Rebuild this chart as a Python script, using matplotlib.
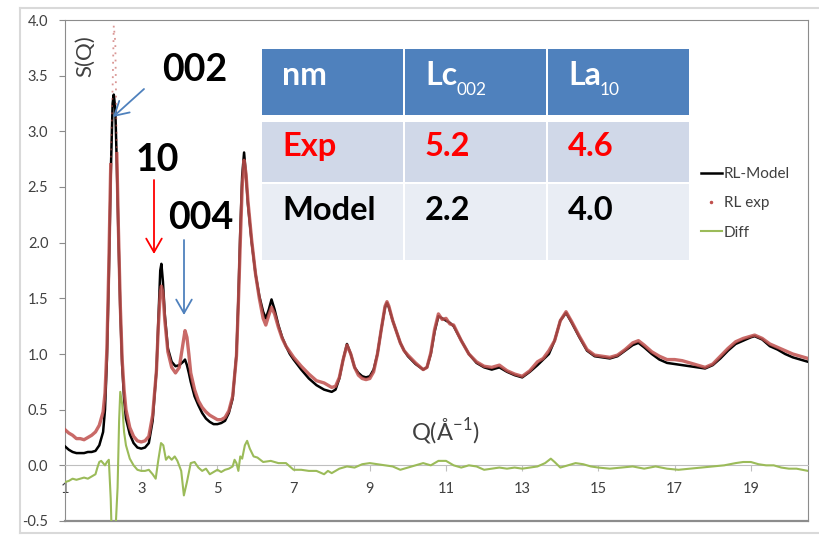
import matplotlib
matplotlib.use("Agg")
import matplotlib.pyplot as plt
import numpy as np
from matplotlib.patches import Rectangle, FancyArrowPatch
from matplotlib.lines import Line2D
from matplotlib.transforms import Affine2D

plt.rcParams['font.family'] = ['Lato', 'DejaVu Sans']
plt.rcParams['mathtext.fontset'] = 'custom'
plt.rcParams['mathtext.rm'] = 'Lato'

# Q grid shared by model and experiment
q = [1.0, 1.1, 1.2, 1.3, 1.4, 1.5, 1.6, 1.7, 1.8, 1.9,
     2.0, 2.05, 2.1, 2.15, 2.2, 2.25, 2.28, 2.32, 2.36, 2.4,
     2.45, 2.5, 2.55, 2.6, 2.7, 2.8, 2.9, 3.0, 3.1, 3.2,
     3.3, 3.4, 3.45, 3.5, 3.53, 3.57, 3.62, 3.7, 3.8, 3.9,
     4.0, 4.1, 4.15, 4.2, 4.25, 4.3, 4.4, 4.5, 4.6, 4.7,
     4.8, 4.9, 5.0, 5.1, 5.2, 5.3, 5.4, 5.5, 5.55, 5.6,
     5.65, 5.7, 5.75, 5.8, 5.9, 6.0, 6.1, 6.2, 6.27, 6.35,
     6.42, 6.5, 6.6, 6.7, 6.8, 6.9, 7.0, 7.2, 7.4, 7.6,
     7.8, 8.0, 8.1, 8.2, 8.3, 8.4, 8.5, 8.6, 8.7, 8.8,
     8.9, 9.0, 9.1, 9.2, 9.3, 9.4, 9.45, 9.5, 9.6, 9.7,
     9.8, 9.9, 10.0, 10.2, 10.4, 10.5, 10.6, 10.7, 10.8, 10.9,
     11.0, 11.1, 11.2, 11.4, 11.6, 11.8, 12.0, 12.2, 12.4, 12.6,
     12.8, 13.0, 13.2, 13.4, 13.55, 13.7, 13.85, 14.0, 14.15, 14.3,
     14.5, 14.7, 14.9, 15.1, 15.3, 15.5, 15.7, 15.9, 16.05, 16.2,
     16.4, 16.6, 16.8, 17.0, 17.2, 17.4, 17.6, 17.8, 18.0, 18.2,
     18.4, 18.6, 18.8, 19.0, 19.1, 19.3, 19.5, 19.7, 19.9, 20.1,
     20.3, 20.5]

rl_model = [0.17, 0.14, 0.12, 0.11, 0.11, 0.11, 0.12, 0.12, 0.13, 0.18,
            0.30, 0.50, 0.95, 1.70, 2.60, 3.25, 3.33, 3.20, 2.70, 2.10,
            1.40, 0.90, 0.60, 0.42, 0.28, 0.20, 0.16, 0.15, 0.16, 0.20,
            0.40, 0.85, 1.30, 1.75, 1.81, 1.65, 1.35, 1.05, 0.93, 0.89,
            0.90, 0.93, 0.95, 0.90, 0.83, 0.75, 0.62, 0.54, 0.47, 0.42,
            0.39, 0.37, 0.37, 0.38, 0.40, 0.47, 0.60, 1.00, 1.50, 2.10,
            2.60, 2.81, 2.60, 2.35, 2.00, 1.72, 1.52, 1.38, 1.32, 1.40,
            1.49, 1.40, 1.26, 1.15, 1.07, 1.00, 0.95, 0.86, 0.78, 0.72,
            0.68, 0.66, 0.68, 0.78, 0.95, 1.09, 1.00, 0.88, 0.83, 0.80,
            0.79, 0.80, 0.86, 1.00, 1.22, 1.42, 1.46, 1.42, 1.30, 1.20,
            1.10, 1.03, 0.98, 0.91, 0.86, 0.88, 1.00, 1.20, 1.34, 1.32,
            1.30, 1.28, 1.25, 1.12, 1.00, 0.92, 0.88, 0.86, 0.88, 0.84,
            0.81, 0.79, 0.84, 0.90, 0.95, 1.00, 1.12, 1.30, 1.37, 1.28,
            1.15, 1.03, 0.98, 0.97, 0.96, 0.98, 1.03, 1.08, 1.10, 1.06,
            1.00, 0.95, 0.92, 0.91, 0.90, 0.89, 0.88, 0.87, 0.90, 0.96,
            1.03, 1.09, 1.12, 1.15, 1.16, 1.13, 1.07, 1.04, 1.00, 0.97,
            0.95, 0.93]

rl_exp = [0.32, 0.29, 0.27, 0.24, 0.24, 0.23, 0.25, 0.27, 0.30, 0.36,
          0.48, 0.65, 1.05, 1.80, 2.70, 3.40, 3.95, 3.80, 2.80, 2.15,
          1.45, 0.95, 0.68, 0.50, 0.34, 0.26, 0.22, 0.21, 0.22, 0.26,
          0.45, 0.85, 1.25, 1.55, 1.61, 1.55, 1.30, 1.02, 0.88, 0.83,
          0.88, 1.10, 1.21, 1.15, 1.00, 0.83, 0.68, 0.58, 0.52, 0.48,
          0.45, 0.43, 0.41, 0.41, 0.43, 0.49, 0.62, 0.98, 1.45, 2.00,
          2.50, 2.74, 2.62, 2.38, 2.02, 1.72, 1.50, 1.32, 1.26, 1.35,
          1.42, 1.36, 1.24, 1.14, 1.07, 1.02, 0.97, 0.89, 0.82, 0.76,
          0.74, 0.70, 0.71, 0.79, 0.95, 1.08, 1.00, 0.88, 0.81, 0.78,
          0.77, 0.78, 0.84, 1.00, 1.22, 1.43, 1.47, 1.43, 1.30, 1.20,
          1.10, 1.03, 0.99, 0.92, 0.86, 0.88, 1.01, 1.22, 1.36, 1.31,
          1.32, 1.27, 1.26, 1.12, 1.00, 0.93, 0.89, 0.88, 0.90, 0.85,
          0.82, 0.80, 0.85, 0.93, 0.96, 1.03, 1.12, 1.30, 1.38, 1.29,
          1.16, 1.04, 0.99, 0.98, 0.97, 0.99, 1.04, 1.10, 1.12, 1.08,
          1.02, 0.98, 0.95, 0.95, 0.94, 0.92, 0.90, 0.88, 0.91, 0.98,
          1.05, 1.11, 1.14, 1.16, 1.17, 1.14, 1.09, 1.06, 1.03, 1.00,
          0.98, 0.96]

q_diff = [1.0, 1.1, 1.2, 1.3, 1.4, 1.5, 1.6, 1.7, 1.8, 1.85,
          1.9, 1.95, 2.0, 2.05, 2.1, 2.15, 2.2, 2.22, 2.28, 2.33,
          2.38, 2.42, 2.45, 2.5, 2.55, 2.6, 2.7, 2.8, 2.9, 3.0,
          3.1, 3.2, 3.3, 3.38, 3.45, 3.52, 3.58, 3.65, 3.72, 3.8,
          3.88, 3.95, 4.05, 4.12, 4.2, 4.3, 4.4, 4.5, 4.6, 4.7,
          4.8, 4.9, 5.0, 5.1, 5.2, 5.3, 5.4, 5.45, 5.5, 5.55,
          5.6, 5.65, 5.72, 5.78, 5.85, 5.95, 6.05, 6.2, 6.4, 6.6,
          6.8, 7.0, 7.2, 7.4, 7.6, 7.8, 7.9, 8.0, 8.2, 8.4,
          8.6, 8.8, 9.0, 9.2, 9.4, 9.6, 9.8, 10.0, 10.2, 10.4,
          10.6, 10.8, 11.0, 11.2, 11.4, 11.6, 11.8, 12.0, 12.2, 12.4,
          12.6, 12.8, 13.0, 13.2, 13.4, 13.6, 13.75, 13.85, 14.0, 14.2,
          14.4, 14.6, 14.8, 15.0, 15.3, 15.6, 15.9, 16.2, 16.5, 16.8,
          17.1, 17.4, 17.7, 18.0, 18.3, 18.6, 18.8, 19.0, 19.2, 19.4,
          19.6, 19.8, 20.0, 20.2, 20.5]

diff = [-0.15, -0.14, -0.12, -0.13, -0.12, -0.11, -0.12, -0.10, -0.08, -0.02,
        0.03, 0.04, 0.02, 0.00, 0.03, 0.05, -0.30, -0.55, -0.60, -0.55,
        -0.20, 0.40, 0.66, 0.55, 0.30, 0.18, 0.06, 0.00, -0.04, -0.05,
        -0.05, -0.04, -0.08, -0.12, 0.05, 0.20, 0.18, 0.05, 0.08, 0.05,
        0.08, 0.04, -0.05, -0.27, -0.15, 0.02, 0.03, -0.02, -0.05, -0.03,
        -0.08, -0.06, -0.04, -0.06, -0.04, -0.03, -0.01, 0.05, 0.02, -0.05,
        0.08, 0.06, 0.18, 0.22, 0.15, 0.08, 0.07, 0.03, 0.04, 0.02,
        0.02, -0.04, -0.04, -0.05, -0.05, -0.08, -0.05, -0.07, -0.03, -0.01,
        -0.02, 0.01, 0.02, 0.01, 0.00, -0.01, -0.04, -0.02, 0.00, 0.02,
        0.00, 0.04, 0.04, 0.00, -0.02, 0.00, -0.01, -0.04, -0.03, -0.02,
        -0.03, -0.02, -0.03, -0.02, -0.01, 0.02, 0.06, 0.03, -0.02, 0.00,
        0.02, 0.01, -0.01, -0.02, -0.03, -0.02, -0.01, -0.03, -0.01, -0.03,
        -0.04, -0.03, -0.02, -0.01, 0.00, 0.02, 0.03, 0.03, 0.01, 0.00,
        0.00, -0.02, -0.03, -0.03, -0.05]

x_ticks = [1, 3, 5, 7, 9, 11, 13, 15, 17, 19]
y_ticks = [-0.5, 0.0, 0.5, 1.0, 1.5, 2.0, 2.5, 3.0, 3.5, 4.0]

table_head = ['nm', 'Lc', 'La']
table_sub = ['', '002', '10']
table_rows = [['Exp', '5.2', '4.6'], ['Model', '2.2', '4.0']]
row_colors = ['red', 'black']

W, H = 820, 535
fig = plt.figure(figsize=(W / 100, H / 100), dpi=100)
# pixel coordinates, origin top-left
px = Affine2D().scale(1.0 / W, -1.0 / H).translate(0, 1) + fig.transFigure

# chart frame
for xs, ys in [([20, 20], [8, 533]), ([20, 820], [8, 8]), ([20, 820], [533, 533])]:
    fig.add_artist(Line2D(xs, ys, transform=px, color='#D9D9D9', lw=1.5))

ax = fig.add_axes([65 / W, 1 - 521 / H, (808 - 65) / W, (521 - 20) / H])
ax.set_xlim(1, 20.5)
ax.set_ylim(-0.5, 4.0)

qa = np.array(q)
ea = np.array(rl_exp)
# the top of the 002 peak only shows as sparse dots in the original
top = (qa > 2.2) & (qa < 2.36)
ax.plot(q, rl_model, color='black', lw=1.8, zorder=3)
ax.plot(qa, np.ma.masked_where(top, ea), color='#C0504D', lw=2.4, alpha=0.85, zorder=4)
sel = (qa >= 2.2) & (qa <= 2.36)
ax.plot(qa[sel], ea[sel], color='#C0504D', lw=1.3, ls=(0, (1, 3)), alpha=0.6, zorder=4)
ax.plot(q_diff, diff, color='#9BBB59', lw=1.5, zorder=3)

for s in ['top', 'right', 'left']:
    ax.spines[s].set_color('#8C8C8C')
ax.spines['bottom'].set_position(('data', 0))
ax.spines['bottom'].set_color('#BFBFBF')
ax.axhline(-0.5, color='#8C8C8C', lw=1.6, clip_on=False)

ax.set_xticks(x_ticks)
ax.set_yticks(y_ticks)
ax.set_yticklabels(['%.1f' % v for v in y_ticks])
ax.tick_params(axis='x', direction='out', length=4, color='#BFBFBF', pad=8,
               labelsize=10.5, labelcolor='#404040')
ax.tick_params(axis='y', direction='out', length=4, color='#8C8C8C', pad=8,
               labelsize=10.5, labelcolor='#404040')

ax.text(1.52, 3.68, 'S(Q)', rotation=90, ha='center', va='center', fontsize=16, color='#404040')
ax.text(10.97, 0.30, r'Q(Å$^{\mathregular{-1}}$)', ha='center', va='center', fontsize=17, color='#404040')

# peak labels and arrows
ax.text(3.55, 3.45, '002', fontsize=27, fontweight='bold', ha='left', va='baseline')
ax.text(2.84, 2.64, '10', fontsize=27, fontweight='bold', ha='left', va='baseline')
ax.text(3.70, 2.12, '004', fontsize=27, fontweight='bold', ha='left', va='baseline')
arrows = [((144, 89), (113, 117), '#4F81BD'),
          ((154, 180), (154, 254), 'red'),
          ((184, 240), (184, 315), '#4F81BD')]
for start, end, c in arrows:
    fig.add_artist(FancyArrowPatch(
        (start[0] / W, 1 - start[1] / H), (end[0] / W, 1 - end[1] / H),
        transform=fig.transFigure, arrowstyle='->,head_length=0.7,head_width=0.4',
        mutation_scale=14, color=c, lw=1.3, shrinkA=0, shrinkB=0))

# table
col_x = [262, 405, 548]
col_w = 141
band_y = [49, 122, 184]
band_h = [66, 60, 76]
band_c = ['#4F81BD', '#D0D8E8', '#E9EDF4']
for r in range(3):
    for c in range(3):
        fig.add_artist(Rectangle((col_x[c], band_y[r]), col_w, band_h[r], transform=px,
                                 facecolor=band_c[r], edgecolor='none'))
fig.canvas.draw()
for c in range(3):
    t = fig.text(col_x[c] + 20, 85, table_head[c], transform=px, fontsize=23,
                 fontweight='bold', color='white', va='baseline', ha='left')
    if table_sub[c]:
        bb = t.get_window_extent(renderer=fig.canvas.get_renderer())
        fig.text(bb.x1 - 1, 95, table_sub[c], transform=Affine2D().scale(1, -1).translate(0, H),
                 fontsize=12.5, color='white', va='baseline', ha='left')
row_base = [156, 220]
for r, row in enumerate(table_rows):
    for c, val in enumerate(row):
        fig.text(col_x[c] + 20, row_base[r], val, transform=px, fontsize=23.5,
                 fontweight='bold', color=row_colors[r], va='baseline', ha='left')

# legend
handles = [Line2D([], [], color='black', lw=1.8),
           Line2D([], [], color='#C0504D', marker='.', markersize=3, lw=0),
           Line2D([], [], color='#9BBB59', lw=1.5)]
leg = ax.legend(handles, ['RL-Model', 'RL exp', 'Diff'], loc='upper left',
                bbox_to_anchor=(701 / W, 1 - 167 / H), bbox_transform=fig.transFigure,
                frameon=False, fontsize=11, handlelength=1.35, handletextpad=0.15,
                labelspacing=1.0, borderpad=0, borderaxespad=0)
for t in leg.get_texts():
    t.set_color('#404040')

fig.savefig('out.png', dpi=100)
